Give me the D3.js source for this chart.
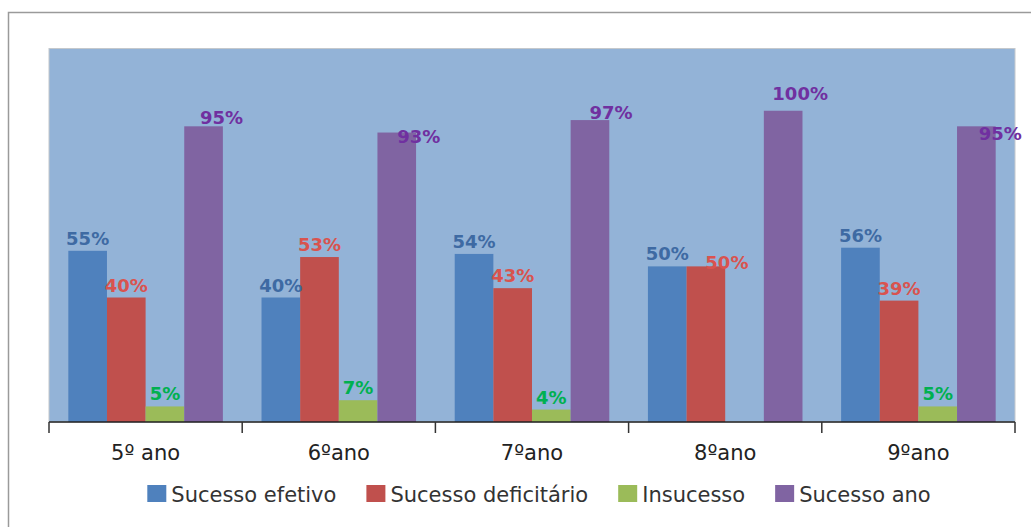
<!DOCTYPE html>
<html>
<head>
<meta charset="utf-8">
<script src="https://cdn.jsdelivr.net/npm/d3@7"></script>
<style>
  html, body { margin: 0; padding: 0; background: #fff; }
  svg { display: block; font-family: "DejaVu Sans", Verdana, sans-serif; }
</style>
</head>
<body>
<svg id="chart" width="1031" height="527"></svg>
<script>
// School years and results per category
const categories = ["5º ano", "6ºano", "7ºano", "8ºano", "9ºano"];
const seriesNames = ["Sucesso efetivo", "Sucesso deficitário", "Insucesso", "Sucesso ano"];
const sucessoEfetivo = [55, 40, 54, 50, 56];
const sucessoDeficitario = [40, 53, 43, 50, 39];
const insucesso = [5, 7, 4, 0, 5];
const sucessoAno = [95, 93, 97, 100, 95];
const yDomainMax = 120;

const seriesValues = [sucessoEfetivo, sucessoDeficitario, insucesso, sucessoAno];
const barColors = ["#4F81BD", "#C0504D", "#9BBB59", "#8064A2"];
const labelColors = ["#3E6AA3", "#D9534F", "#00B050", "#7030A0"];

// Manual label nudges (dx, dy) for the labels placed off-centre
const labelNudge = {
  "3-0": [18, 4], "3-1": [22, 16], "3-2": [21, 5], "3-3": [17, -5], "3-4": [24, 20],
  "1-3": [21, 9]
};

const svg = d3.select("#chart");
const plot = { left: 49, right: 1015, top: 48.5, bottom: 422 };

// Outer chart frame
svg.append("rect")
  .attr("x", 8.5).attr("y", 12.5)
  .attr("width", 1100).attr("height", 600)
  .attr("fill", "#fff")
  .attr("stroke", "#9a9a9a").attr("stroke-width", 1.5);

const x = d3.scaleBand().domain(categories).range([plot.left, plot.right]).padding(0);
const xInner = d3.scaleBand().domain(d3.range(seriesNames.length))
  .range([0, x.bandwidth()]).paddingInner(0).paddingOuter(0.5);
const y = d3.scaleLinear().domain([0, yDomainMax]).range([plot.bottom, plot.top]);

// Plot area background
svg.append("rect")
  .attr("x", plot.left).attr("y", plot.top)
  .attr("width", plot.right - plot.left).attr("height", plot.bottom - plot.top)
  .attr("fill", "#93B3D7")
  .attr("stroke", "#c4c8cc").attr("stroke-width", 1);

// Bars
const rows = [];
seriesValues.forEach((vals, s) => {
  vals.forEach((v, c) => rows.push({ s, c, v }));
});

svg.append("g").selectAll("rect")
  .data(rows.filter(d => d.v > 0))
  .join("rect")
  .attr("x", d => x(categories[d.c]) + xInner(d.s))
  .attr("y", d => y(d.v))
  .attr("width", xInner.bandwidth())
  .attr("height", d => y(0) - y(d.v))
  .attr("fill", d => barColors[d.s]);

// Category axis
const axis = svg.append("g").attr("transform", `translate(0,${plot.bottom})`);
axis.append("line")
  .attr("x1", plot.left).attr("x2", plot.right)
  .attr("stroke", "#222").attr("stroke-width", 1.5);
const boundaries = categories.map(c => x(c)).concat([x.range()[1]]);
axis.selectAll("line.tick")
  .data(boundaries)
  .join("line")
  .attr("class", "tick")
  .attr("x1", d => d).attr("x2", d => d)
  .attr("y1", 0).attr("y2", 11)
  .attr("stroke", "#333").attr("stroke-width", 1.5);
svg.append("g").selectAll("text")
  .data(categories)
  .join("text")
  .attr("x", d => x(d) + x.bandwidth() / 2)
  .attr("y", 460)
  .attr("text-anchor", "middle")
  .attr("font-size", 21)
  .attr("fill", "#222")
  .text(d => d);

// Value labels
svg.append("g").selectAll("text")
  .data(rows.filter(d => d.v > 0))
  .join("text")
  .attr("x", d => {
    const n = labelNudge[d.s + "-" + d.c] || [0, 0];
    return x(categories[d.c]) + xInner(d.s) + xInner.bandwidth() / 2 + n[0];
  })
  .attr("y", d => {
    const n = labelNudge[d.s + "-" + d.c] || [0, 0];
    return y(d.v) - 6 + n[1];
  })
  .attr("text-anchor", "middle")
  .attr("font-size", 18)
  .attr("font-weight", "bold")
  .attr("fill", d => labelColors[d.s])
  .text(d => d.v + "%");

// Legend
const legend = svg.append("g");
const items = legend.selectAll("g")
  .data(seriesNames)
  .join("g");
items.append("rect")
  .attr("width", 19).attr("height", 17)
  .attr("y", 485)
  .attr("fill", (d, i) => barColors[i]);
items.append("text")
  .attr("x", 24)
  .attr("y", 502)
  .attr("font-size", 21)
  .attr("fill", "#333")
  .text(d => d);
let cursor = 0;
const offsets = [];
items.each(function () {
  offsets.push(cursor);
  const w = d3.select(this).select("text").node().getComputedTextLength();
  cursor += 24 + w + 30;
});
const legendWidth = cursor - 30;
const legendStart = 539 - legendWidth / 2;
items.attr("transform", (d, i) => `translate(${legendStart + offsets[i]},0)`);
</script>
</body>
</html>
